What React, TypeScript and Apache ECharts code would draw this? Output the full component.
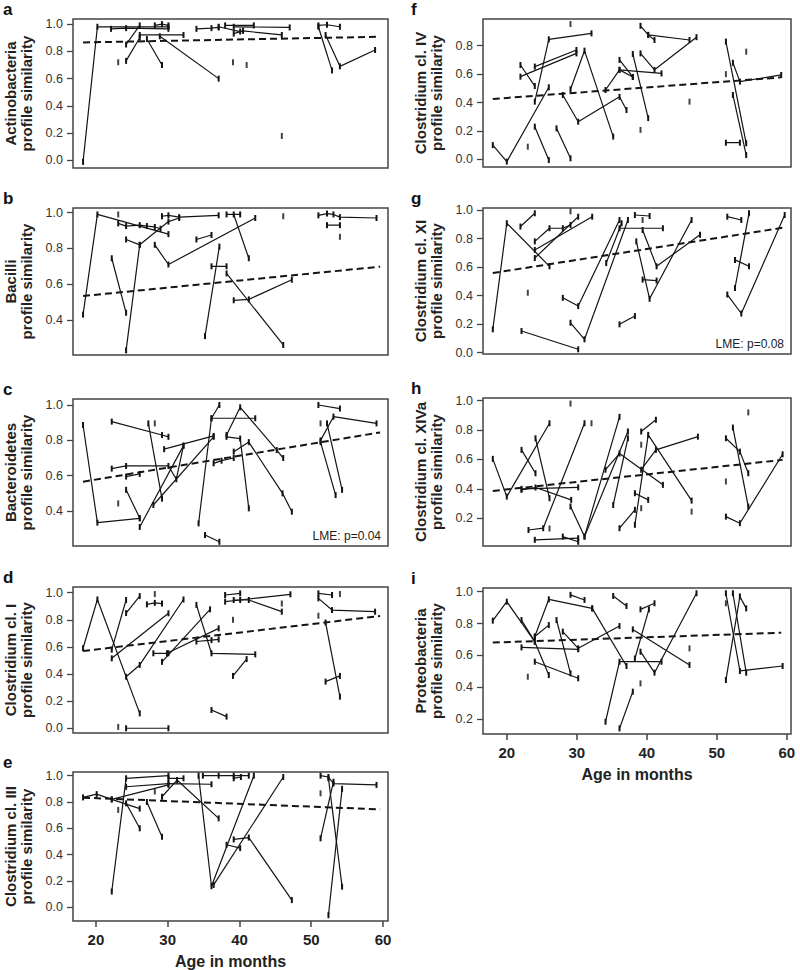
import React, { useEffect, useRef } from 'react';
import * as echarts from 'echarts';

// ---------- data ----------
const ageTicks = [20, 30, 40, 50, 60];
const simTicks01 = [0, 0.2, 0.4, 0.6, 0.8, 1.0];
const simTicks04 = [0.4, 0.6, 0.8, 1.0];
const simTicks08 = [0, 0.2, 0.4, 0.6, 0.8];
const simTicks02 = [0.2, 0.4, 0.6, 0.8, 1.0];

// a: Actinobacteria
const actinoTracks = [
  [[18.2, -0.01], [20.2, 0.98], [30.1, 0.98]],
  [[22.1, 0.965], [24.2, 0.97], [30.1, 0.965]],
  [[26.1, 0.92], [32.2, 0.92]],
  [[24.2, 0.73], [26.1, 0.9]],
  [[24.2, 0.85], [26.1, 0.99]],
  [[27.1, 0.89], [29.2, 0.7]],
  [[28.9, 0.91], [37.1, 0.6]],
  [[28.2, 0.99], [29.2, 1.0], [30.1, 0.99]],
  [[34.0, 0.965], [36.1, 0.97], [37.1, 0.975]],
  [[38.0, 0.99], [42.0, 0.99]],
  [[39.2, 0.98], [47.0, 0.975]],
  [[39.2, 0.93], [40.5, 0.95], [45.9, 0.92]],
  [[37.1, 0.98], [40.1, 0.945]],
  [[51.0, 0.99], [52.2, 0.995], [54.0, 0.98]],
  [[51.0, 0.98], [52.9, 0.66]],
  [[52.0, 0.92], [54.0, 0.69], [58.9, 0.81]],
];
const actinoSingles = [[23.1, 0.72], [39.1, 0.72], [41.0, 0.7], [45.9, 0.18]];
const actinoTrend = [[18.2, 0.865], [59.6, 0.907]];

// b: Bacilli
const bacilliTracks = [
  [[18.2, 0.43], [20.2, 0.99], [30.1, 0.88]],
  [[23.1, 0.94], [24.2, 0.925], [26.1, 0.93], [27.1, 0.925], [28.2, 0.92], [29.0, 0.91]],
  [[24.2, 0.23], [26.1, 0.82], [30.1, 0.95], [31.6, 0.97]],
  [[24.2, 0.85], [26.1, 0.82]],
  [[22.2, 0.745], [24.2, 0.44]],
  [[28.2, 0.82], [30.1, 0.71], [42.2, 0.97]],
  [[29.2, 0.98], [30.1, 0.985], [31.6, 0.975], [37.1, 0.985]],
  [[34.0, 0.85], [36.1, 0.875]],
  [[35.2, 0.31], [37.2, 0.81]],
  [[36.1, 0.7], [38.2, 0.7]],
  [[38.2, 0.66], [46.1, 0.26]],
  [[39.2, 0.51], [41.3, 0.515], [47.3, 0.625]],
  [[38.2, 0.99], [40.1, 0.99]],
  [[39.2, 0.99], [41.3, 0.745]],
  [[51.0, 0.985], [52.2, 0.995], [53.1, 0.99], [54.0, 0.975], [59.1, 0.97]],
  [[52.2, 0.93], [54.0, 0.93]],
];
const bacilliSingles = [[23.1, 0.99], [46.1, 0.98], [54.0, 0.865]];
const bacilliTrend = [[18.2, 0.534], [59.6, 0.698]];

// c: Bacteroidetes
const bacteroTracks = [
  [[18.2, 0.887], [20.2, 0.334], [26.1, 0.358]],
  [[22.2, 0.906], [29.2, 0.83], [30.1, 0.82]],
  [[22.2, 0.64], [24.2, 0.655], [30.1, 0.655], [31.2, 0.58], [32.2, 0.77]],
  [[24.2, 0.595], [26.1, 0.61]],
  [[24.2, 0.52], [26.1, 0.36]],
  [[27.3, 0.896], [29.2, 0.47]],
  [[26.1, 0.31], [32.2, 0.77]],
  [[28.0, 0.434], [36.4, 0.82]],
  [[29.5, 0.75], [36.4, 0.825]],
  [[34.3, 0.33], [36.1, 0.925], [37.2, 1.0]],
  [[36.1, 0.925], [42.2, 0.925]],
  [[35.2, 0.264], [37.2, 0.226]],
  [[36.4, 0.67], [37.5, 0.685], [39.2, 0.7]],
  [[38.2, 0.83], [40.1, 0.987], [45.2, 0.745], [46.1, 0.7]],
  [[38.2, 0.82], [40.1, 0.81], [41.3, 0.415]],
  [[39.2, 0.736], [41.3, 0.79], [46.0, 0.5], [47.3, 0.396]],
  [[51.0, 1.0], [54.0, 0.98]],
  [[51.3, 0.79], [53.4, 0.49]],
  [[52.2, 0.896], [54.3, 0.52]],
  [[51.3, 0.8], [53.1, 0.934], [59.1, 0.896]],
];
const bacteroSingles = [[23.1, 0.443], [28.2, 0.896], [51.3, 0.896]];
const bacteroTrend = [[18.2, 0.566], [59.6, 0.845]];

// d: Clostridium cl. I
const clostITracks = [
  [[18.2, 0.59], [20.2, 0.95], [26.1, 0.11]],
  [[22.2, 0.516], [30.1, 0.848]],
  [[22.2, 0.58], [24.2, 0.946]],
  [[24.2, 0.85], [26.1, 0.975]],
  [[24.2, 0.38], [26.1, 0.467], [32.2, 0.95]],
  [[24.2, 0.0], [30.1, 0.0]],
  [[27.1, 0.914], [28.2, 0.925], [29.2, 0.92]],
  [[28.0, 0.553], [30.1, 0.553]],
  [[29.2, 0.49], [35.9, 0.877]],
  [[29.9, 0.553], [37.1, 0.737]],
  [[34.0, 0.91], [36.1, 0.553], [42.2, 0.545]],
  [[34.0, 0.64], [36.1, 0.65], [37.1, 0.656]],
  [[36.1, 0.135], [38.2, 0.086]],
  [[39.1, 0.386], [41.0, 0.51]],
  [[38.0, 0.983], [40.1, 0.995]],
  [[38.0, 0.934], [40.1, 0.946], [47.1, 0.988]],
  [[39.2, 0.946], [41.3, 0.946], [45.9, 0.86]],
  [[51.0, 0.995], [52.9, 0.983]],
  [[51.0, 0.958], [52.9, 0.872], [58.9, 0.86]],
  [[52.0, 0.78], [54.0, 0.233]],
  [[52.0, 0.344], [54.0, 0.386]],
];
const clostISingles = [[23.1, 0.01], [28.2, 0.99], [39.1, 0.8], [45.9, 0.92], [51.0, 0.83], [54.0, 0.99]];
const clostITrend = [[18.2, 0.57], [59.6, 0.828]];

// e: Clostridium cl. III
const clostIIITracks = [
  [[18.2, 0.835], [20.1, 0.86], [22.2, 0.82], [26.1, 0.75]],
  [[22.2, 0.12], [24.2, 0.98], [30.1, 1.0]],
  [[24.2, 0.916], [30.1, 0.94], [36.1, 0.935]],
  [[24.2, 0.79], [26.1, 0.6]],
  [[27.1, 0.8], [29.2, 0.536]],
  [[29.2, 0.84], [31.3, 0.967], [37.1, 0.676]],
  [[22.2, 0.82], [30.1, 0.93]],
  [[30.1, 0.98], [32.2, 0.98]],
  [[34.3, 1.0], [36.1, 0.16], [42.0, 1.0]],
  [[34.9, 1.0], [37.1, 1.0], [39.2, 1.0], [41.3, 1.0]],
  [[39.2, 0.98], [40.2, 0.99]],
  [[38.2, 0.475], [40.1, 0.45]],
  [[39.2, 0.516], [41.3, 0.53], [47.3, 0.055]],
  [[36.4, 0.17], [46.1, 0.99]],
  [[51.3, 1.0], [52.4, 0.99], [53.1, 0.94], [59.1, 0.93]],
  [[51.3, 0.524], [53.1, 0.954]],
  [[52.4, -0.06], [54.3, 0.9]],
  [[52.4, 0.98], [54.3, 0.157]],
];
const clostIIISingles = [[23.1, 0.74], [28.2, 0.88], [51.3, 0.866]];
const clostIIITrend = [[18.2, 0.833], [59.6, 0.744]];

// f: Clostridium cl. IV
const clostIVTracks = [
  [[18.0, 0.1], [20.0, -0.016], [26.0, 0.507]],
  [[21.95, 0.664], [24.0, 0.516]],
  [[21.95, 0.582], [29.95, 0.746]],
  [[24.0, 0.653], [29.95, 0.77]],
  [[24.0, 0.406], [26.0, 0.845], [32.1, 0.887]],
  [[24.0, 0.23], [26.0, -0.005]],
  [[27.1, 0.218], [29.1, 0.007]],
  [[29.1, 0.493], [31.1, 0.765], [35.2, 0.16]],
  [[28.0, 0.453], [30.2, 0.265], [36.1, 0.44], [37.1, 0.347]],
  [[34.1, 0.488], [36.1, 0.63], [38.0, 0.58]],
  [[36.1, 0.63], [42.1, 0.605]],
  [[36.1, 0.7], [38.0, 0.58]],
  [[38.0, 0.742], [40.2, 0.29]],
  [[39.1, 0.94], [40.2, 0.876], [41.1, 0.84]],
  [[40.2, 0.876], [46.1, 0.84]],
  [[39.1, 0.746], [41.1, 0.63], [47.1, 0.86]],
  [[51.3, 0.829], [54.2, 0.113]],
  [[51.3, 0.117], [53.3, 0.117]],
  [[52.3, 0.453], [54.2, 0.03]],
  [[52.3, 0.68], [53.3, 0.547], [59.2, 0.594]],
];
const clostIVSingles = [[23.0, 0.089], [29.1, 0.953], [39.1, 0.207], [46.1, 0.406], [51.3, 0.6], [54.2, 0.758]];
const clostIVTrend = [[18.0, 0.425], [59.2, 0.577]];

// g: Clostridium cl. XI
const clostXITracks = [
  [[18.0, 0.163], [20.0, 0.907], [26.1, 0.605]],
  [[21.95, 0.884], [24.0, 0.977]],
  [[24.0, 0.78], [26.1, 0.872], [28.0, 0.872], [29.1, 0.895]],
  [[24.0, 0.663], [30.2, 0.953]],
  [[24.0, 0.72], [32.2, 0.953]],
  [[22.1, 0.151], [30.2, 0.023]],
  [[28.0, 0.384], [30.2, 0.326], [36.1, 0.93]],
  [[29.1, 0.209], [31.1, 0.093], [37.3, 0.93]],
  [[34.2, 0.628], [36.4, 0.907]],
  [[36.1, 0.872], [42.3, 0.872]],
  [[38.3, 0.965], [40.4, 0.958]],
  [[36.1, 0.198], [38.3, 0.256]],
  [[38.5, 0.78], [40.4, 0.377], [46.4, 0.93]],
  [[39.4, 0.86], [41.4, 0.605], [47.6, 0.826]],
  [[39.4, 0.512], [41.4, 0.505]],
  [[51.5, 0.953], [53.5, 0.93]],
  [[51.5, 0.407], [53.5, 0.274], [59.7, 0.965]],
  [[52.6, 0.453], [54.6, 0.977]],
  [[52.6, 0.65], [54.6, 0.605]],
];
const clostXISingles = [[29.1, 0.99], [23.0, 0.42], [39.4, 0.93]];
const clostXITrend = [[18.0, 0.558], [59.9, 0.879]];

// h: Clostridium cl. XIVa
const clostXIVaTracks = [
  [[18.0, 0.604], [20.0, 0.347], [26.1, 0.846]],
  [[22.1, 0.665], [24.1, 0.506]],
  [[24.1, 0.744], [26.1, 0.336]],
  [[22.1, 0.4], [30.2, 0.41]],
  [[22.1, 0.393], [24.1, 0.409], [29.2, 0.325]],
  [[23.1, 0.12], [25.2, 0.132], [31.1, 0.846]],
  [[24.0, 0.053], [30.2, 0.064]],
  [[28.0, 0.075], [30.2, 0.04]],
  [[29.1, 0.28], [31.1, 0.075], [36.1, 0.89]],
  [[31.1, 0.075], [37.3, 0.79]],
  [[35.2, 0.29], [37.3, 0.744]],
  [[34.1, 0.53], [36.1, 0.64], [42.3, 0.427]],
  [[36.1, 0.132], [38.3, 0.257]],
  [[38.3, 0.155], [40.2, 0.767], [46.4, 0.32]],
  [[39.2, 0.79], [41.3, 0.87]],
  [[38.3, 0.37], [40.2, 0.325]],
  [[39.2, 0.53], [41.3, 0.665], [47.3, 0.755]],
  [[51.3, 0.744], [53.3, 0.653], [54.5, 0.506]],
  [[52.3, 0.817], [54.5, 0.279]],
  [[51.3, 0.211], [53.3, 0.166], [59.4, 0.635]],
];
const clostXIVaSingles = [[26.1, 0.13], [29.1, 0.98], [32.1, 0.846], [39.2, 0.7], [39.2, 0.268], [46.4, 0.245], [51.3, 0.45], [54.5, 0.92]];
const clostXIVaTrend = [[18.0, 0.386], [59.4, 0.597]];

// i: Proteobacteria
const proteoTracks = [
  [[18.0, 0.818], [20.0, 0.937], [24.0, 0.686], [26.0, 0.476]],
  [[22.1, 0.822], [24.0, 0.686]],
  [[22.1, 0.65], [30.2, 0.638]],
  [[24.0, 0.56], [30.2, 0.456]],
  [[24.0, 0.718], [26.0, 0.79]],
  [[24.0, 0.718], [26.0, 0.952], [32.2, 0.895]],
  [[27.1, 0.822], [29.1, 0.487]],
  [[28.0, 0.749], [30.2, 0.644], [36.1, 0.784]],
  [[29.1, 0.98], [31.1, 0.948]],
  [[32.2, 0.895], [37.1, 0.533]],
  [[35.2, 0.973], [37.1, 0.91]],
  [[34.1, 0.183], [36.1, 0.56], [42.1, 0.56]],
  [[36.1, 0.141], [38.0, 0.372]],
  [[38.0, 0.763], [46.1, 0.54]],
  [[38.3, 0.58], [40.3, 0.889]],
  [[39.1, 0.623], [41.1, 0.491], [47.1, 0.99]],
  [[39.1, 0.889], [41.1, 0.927]],
  [[51.3, 0.99], [53.3, 0.502], [59.4, 0.533]],
  [[51.3, 0.445], [53.3, 0.97], [54.2, 0.895]],
  [[52.3, 0.99], [54.2, 0.491]],
];
const proteoSingles = [[23.0, 0.466], [39.1, 0.424], [46.1, 0.644], [51.3, 0.927]];
const proteoTrend = [[18.0, 0.68], [59.2, 0.742]];

// ---------- layout ----------
const FONT = '"Liberation Sans", Arial, Helvetica, sans-serif';
const INK = '#141414';

const panels = [
  { letter: 'a', label: 'Actinobacteria\nprofile similarity', tracks: actinoTracks, singles: actinoSingles, trend: actinoTrend, yMin: -0.055, yMax: 1.037, yTicks: simTicks01, col: 0, top: 19, height: 149, showX: false, lme: '' },
  { letter: 'b', label: 'Bacilli\nprofile similarity', tracks: bacilliTracks, singles: bacilliSingles, trend: bacilliTrend, yMin: 0.204, yMax: 1.026, yTicks: simTicks04, col: 0, top: 208, height: 147, showX: false, lme: '' },
  { letter: 'c', label: 'Bacteroidetes\nprofile similarity', tracks: bacteroTracks, singles: bacteroSingles, trend: bacteroTrend, yMin: 0.202, yMax: 1.034, yTicks: simTicks04, col: 0, top: 399, height: 147, showX: false, lme: 'LME: p=0.04' },
  { letter: 'd', label: 'Clostridium cl. I\nprofile similarity', tracks: clostITracks, singles: clostISingles, trend: clostITrend, yMin: -0.035, yMax: 1.042, yTicks: simTicks01, col: 0, top: 587, height: 146, showX: false, lme: '' },
  { letter: 'e', label: 'Clostridium cl. III\nprofile similarity', tracks: clostIIITracks, singles: clostIIISingles, trend: clostIIITrend, yMin: -0.104, yMax: 1.028, yTicks: simTicks01, col: 0, top: 772, height: 149, showX: true, lme: '' },
  { letter: 'f', label: 'Clostridium cl. IV\nprofile similarity', tracks: clostIVTracks, singles: clostIVSingles, trend: clostIVTrend, yMin: -0.054, yMax: 0.988, yTicks: simTicks08, col: 1, top: 19, height: 148, showX: false, lme: '' },
  { letter: 'g', label: 'Clostridium cl. XI\nprofile similarity', tracks: clostXITracks, singles: clostXISingles, trend: clostXITrend, yMin: -0.01, yMax: 1.014, yTicks: simTicks01, col: 1, top: 208, height: 146, showX: false, lme: 'LME: p=0.08' },
  { letter: 'h', label: 'Clostridium cl. XIVa\nprofile similarity', tracks: clostXIVaTracks, singles: clostXIVaSingles, trend: clostXIVaTrend, yMin: 0.011, yMax: 1.018, yTicks: simTicks02, col: 1, top: 398, height: 148, showX: false, lme: '' },
  { letter: 'i', label: 'Proteobacteria\nprofile similarity', tracks: proteoTracks, singles: proteoSingles, trend: proteoTrend, yMin: 0.106, yMax: 1.023, yTicks: simTicks02, col: 1, top: 588, height: 146, showX: true, lme: '' },
];

const cols = [
  { left: 73, width: 315, xMin: 16.8, xMax: 60.7, labelX: 18, letterX: 3 },
  { left: 483, width: 308, xMin: 16.6, xMax: 60.6, labelX: 428, letterX: 411 },
];

function buildOption() {
  const grid: any[] = [];
  const xAxis: any[] = [];
  const yAxis: any[] = [];
  const series: any[] = [];
  const graphic: any[] = [];

  panels.forEach((p, i) => {
    const c = cols[p.col];
    grid.push({
      left: c.left, top: p.top, width: c.width, height: p.height,
      show: true, borderColor: '#444', borderWidth: 1.5, backgroundColor: 'transparent',
    });
    xAxis.push({
      type: 'value', gridIndex: i, min: c.xMin, max: c.xMax, position: 'bottom',
      axisLine: { show: false, onZero: false }, splitLine: { show: false },
      axisTick: { show: p.showX, length: 6, customValues: ageTicks, lineStyle: { color: '#444', width: 1.5 } },
      axisLabel: {
        show: p.showX, customValues: ageTicks, margin: 11,
        fontFamily: FONT, fontSize: 15, fontWeight: 'bold', color: '#222',
      },
    });
    yAxis.push({
      type: 'value', gridIndex: i, min: p.yMin, max: p.yMax, position: 'left',
      axisLine: { show: false, onZero: false }, splitLine: { show: false },
      axisTick: { show: true, length: 6, customValues: p.yTicks, lineStyle: { color: '#444', width: 1.3 } },
      axisLabel: {
        show: true, customValues: p.yTicks, margin: 10,
        fontFamily: FONT, fontSize: 12.5, color: '#333',
        formatter: (v: number) => v.toFixed(1),
      },
    });
    p.tracks.forEach((t) => {
      series.push({
        type: 'line', xAxisIndex: i, yAxisIndex: i, data: t,
        symbol: 'rect', symbolSize: [2, 6], showSymbol: true,
        lineStyle: { color: INK, width: 1.2 }, itemStyle: { color: INK },
        silent: true, z: 3,
      });
    });
    series.push({
      type: 'scatter', xAxisIndex: i, yAxisIndex: i, data: p.singles,
      symbol: 'rect', symbolSize: [2, 6], itemStyle: { color: INK }, silent: true, z: 3,
    });
    series.push({
      type: 'line', xAxisIndex: i, yAxisIndex: i, data: p.trend, symbol: 'none',
      lineStyle: { color: INK, width: 2, type: [7, 4] }, silent: true, z: 4,
    });

    graphic.push({
      type: 'text', x: c.letterX, y: p.top - 10,
      style: { text: p.letter, font: `bold 17px ${FONT}`, fill: '#111', textAlign: 'left', textVerticalAlign: 'middle' },
    });
    graphic.push({
      type: 'text', x: c.labelX, y: p.top + p.height / 2, rotation: Math.PI / 2,
      style: {
        text: p.label, font: `bold 15px ${FONT}`, fill: '#222', lineHeight: 16,
        textAlign: 'center', textVerticalAlign: 'middle',
      },
    });
    if (p.lme) {
      graphic.push({
        type: 'text', x: c.left + c.width - 7, y: p.top + p.height - 10,
        style: { text: p.lme, font: `12px ${FONT}`, fill: '#222', textAlign: 'right', textVerticalAlign: 'middle' },
      });
    }
    if (p.showX) {
      graphic.push({
        type: 'text', x: c.left + c.width / 2, y: p.top + p.height + 40,
        style: { text: 'Age in months', font: `bold 16px ${FONT}`, fill: '#222', textAlign: 'center', textVerticalAlign: 'middle' },
      });
    }
  });

  return { animation: false, backgroundColor: '#fff', grid, xAxis, yAxis, series, graphic };
}

export default function App() {
  const ref = useRef<HTMLDivElement>(null);
  useEffect(() => {
    if (!ref.current) return;
    const chart = echarts.init(ref.current, undefined, { renderer: 'svg' });
    chart.setOption(buildOption() as any);
    return () => chart.dispose();
  }, []);
  return (
    <div
      ref={ref}
      style={{ position: 'absolute', left: 0, top: 0, width: 800, height: 970, background: '#fff' }}
    />
  );
}
